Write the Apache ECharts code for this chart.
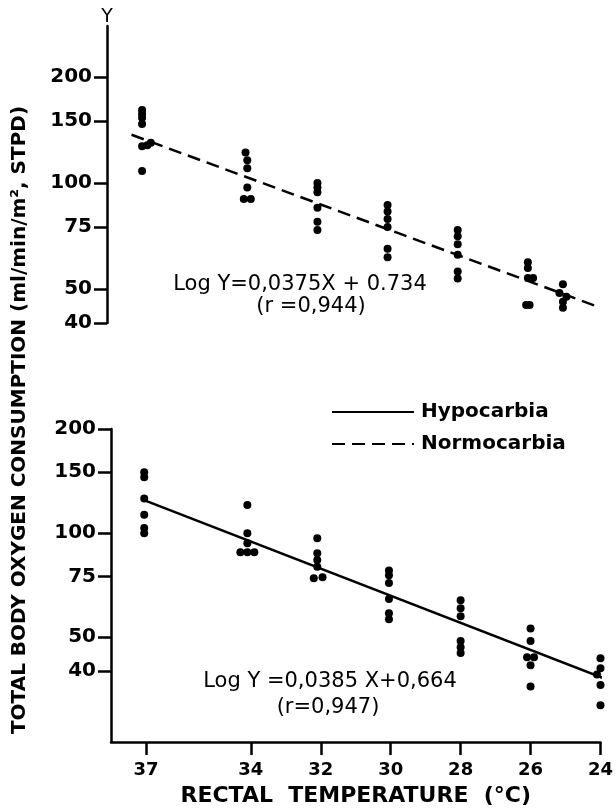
<!DOCTYPE html>
<html>
<head>
<meta charset="utf-8">
<script src="https://cdn.jsdelivr.net/npm/echarts@6/dist/echarts.min.js"></script>
<style>
  html, body { margin: 0; padding: 0; background: #fff; }
  #chart { width: 616px; height: 810px; }
</style>
</head>
<body>
<div id="chart"></div>
<script>
// rectal temperature ticks and O2 consumption ticks
const xTicks = [37, 34, 32, 30, 28, 26, 24];
const yTicks = [40, 50, 75, 100, 150, 200];

// normocarbia (top panel) points
const normoX = [37, 37, 37, 37, 37, 36.85, 36.75, 37,
  34.05, 34, 34, 34, 34.1, 33.9,
  32, 32, 32, 32, 32, 32,
  30, 30, 30, 30, 30, 30,
  28, 28, 28, 28, 28, 28,
  26, 26, 26, 25.85, 26.05, 25.95,
  25, 25.1, 24.9, 25, 25];
const normoY = [161, 157, 153, 147, 127, 128, 130, 108,
  122, 116, 110, 97, 90, 90,
  100, 97, 94, 85, 77.5, 73.5,
  86.5, 83, 79, 75, 65, 61.5,
  73.5, 70.5, 67, 62.5, 56, 53.5,
  59.5, 57.3, 53.7, 53.7, 45, 45,
  51.5, 48.7, 47.5, 46, 44.2];

// hypocarbia (bottom panel) points
const hypoX = [37.05, 37.05, 37.05, 37.05, 37.05, 37.05,
  34.1, 34.1, 34.1, 34.3, 34.1, 33.9,
  32.1, 32.1, 32.1, 32.1, 32.2, 31.95,
  30.05, 30.05, 30.05, 30.05, 30.05, 30.05,
  28, 28, 28, 28, 28, 28,
  26, 26, 26.1, 25.9, 26, 26,
  24, 24, 24.1, 23.95, 24, 24];
const hypoY = [150, 145, 126, 113, 103.5, 100,
  120.5, 100, 93.5, 88, 88, 88,
  96.7, 87.5, 83.6, 80, 74, 74.5,
  78, 75.6, 71.7, 64.5, 58.7, 56.4,
  64, 60.7, 57.5, 48.8, 46.8, 45,
  53, 48.8, 43.8, 43.8, 41.5, 36,
  43.5, 40.7, 39, 37.6, 36.4, 31.8];

// regression lines, end points
const normoLineX = [37.3, 23.6];
const normoLineY = [137, 43];
const hypoLineX = [37, 23.6];
const hypoLineY = [124, 37];

const lg = Math.log10;
const pairs = (xs, ys) => xs.map((x, i) => [x, lg(ys[i])]);

const black = '#000';
const tickFont = { color: black, fontFamily: 'DejaVu Sans', fontWeight: 'bold', fontSize: 20 };

function yAxisOpt(grid, min, max, extra) {
  return Object.assign({
    type: 'value', gridIndex: grid, min: lg(min), max: lg(max),
    axisLine: { show: true, lineStyle: { color: black, width: 2.5 } },
    axisTick: { show: true, length: 13, customValues: yTicks.map(lg), lineStyle: { color: black, width: 2.5 } },
    axisLabel: Object.assign({ margin: 15, customValues: yTicks.map(lg), formatter: v => String(Math.round(Math.pow(10, v))) }, tickFont),
    splitLine: { show: false }
  }, extra || {});
}

const chart = echarts.init(document.getElementById('chart'), null, { renderer: 'canvas' });

chart.setOption({
  backgroundColor: '#fff',
  animation: false,
  grid: [
    { left: 107, right: 18, top: 26, bottom: 487 },
    { left: 111, right: 14, top: 429, bottom: 68 }
  ],
  xAxis: [
    { type: 'value', gridIndex: 0, min: 24, max: 38, inverse: true, show: false },
    {
      type: 'value', gridIndex: 1, min: 24, max: 38, inverse: true,
      axisLine: { show: true, lineStyle: { color: black, width: 2.5 } },
      axisTick: { show: true, length: 13, customValues: xTicks, lineStyle: { color: black, width: 2.5 } },
      axisLabel: { margin: 19, customValues: xTicks, color: black, fontFamily: 'DejaVu Sans', fontWeight: 'bold', fontSize: 18 },
      splitLine: { show: false },
      name: 'RECTAL  TEMPERATURE  (°C)', nameLocation: 'middle', nameGap: 43,
      nameTextStyle: { color: black, fontFamily: 'DejaVu Sans', fontWeight: 'bold', fontSize: 22 }
    }
  ],
  yAxis: [
    yAxisOpt(0, 40, 279, {
      name: 'Y', nameLocation: 'end', nameGap: -1,
      nameTextStyle: { color: black, fontFamily: 'DejaVu Sans', fontSize: 19, align: 'center', verticalAlign: 'bottom' }
    }),
    yAxisOpt(1, 24.9, 200)
  ],
  legend: {
    orient: 'vertical', left: 326, top: 397, itemWidth: 82, itemHeight: 14, itemGap: 12,
    data: ['Hypocarbia', 'Normocarbia'],
    itemStyle: { opacity: 0 },
    textStyle: { color: black, fontFamily: 'DejaVu Sans', fontWeight: 'bold', fontSize: 20, padding: [0, 0, 0, 2] }
  },
  series: [
    {
      name: 'normo-points', type: 'scatter', xAxisIndex: 0, yAxisIndex: 0,
      symbolSize: 8, itemStyle: { color: black, opacity: 1 }, data: pairs(normoX, normoY)
    },
    {
      name: 'Normocarbia', type: 'line', xAxisIndex: 0, yAxisIndex: 0, symbol: 'none', clip: false,
      itemStyle: { color: black },
      lineStyle: { color: black, width: 2.5, type: [13, 7] }, data: pairs(normoLineX, normoLineY)
    },
    {
      name: 'hypo-points', type: 'scatter', xAxisIndex: 1, yAxisIndex: 1,
      symbolSize: 8, itemStyle: { color: black, opacity: 1 }, data: pairs(hypoX, hypoY)
    },
    {
      name: 'Hypocarbia', type: 'line', xAxisIndex: 1, yAxisIndex: 1, symbol: 'none', clip: false,
      itemStyle: { color: black },
      lineStyle: { color: black, width: 2.5 }, data: pairs(hypoLineX, hypoLineY)
    }
  ],
  graphic: [
    {
      type: 'text', x: 20, y: 420, rotation: Math.PI / 2,
      style: { text: 'TOTAL BODY OXYGEN CONSUMPTION (ml/min/m², STPD)', fill: black,
        font: 'bold 20px "DejaVu Sans"', align: 'center', verticalAlign: 'middle' }
    },
    { type: 'text', x: 300, y: 285, style: { text: 'Log Y=0,0375X + 0.734', fill: black, font: '21px "DejaVu Sans"', align: 'center', verticalAlign: 'middle' } },
    { type: 'text', x: 311, y: 307, style: { text: '(r =0,944)', fill: black, font: '21px "DejaVu Sans"', align: 'center', verticalAlign: 'middle' } },
    { type: 'text', x: 330, y: 682, style: { text: 'Log Y =0,0385 X+0,664', fill: black, font: '21px "DejaVu Sans"', align: 'center', verticalAlign: 'middle' } },
    { type: 'text', x: 328, y: 708, style: { text: '(r=0,947)', fill: black, font: '21px "DejaVu Sans"', align: 'center', verticalAlign: 'middle' } }
  ]
});
</script>
</body>
</html>
